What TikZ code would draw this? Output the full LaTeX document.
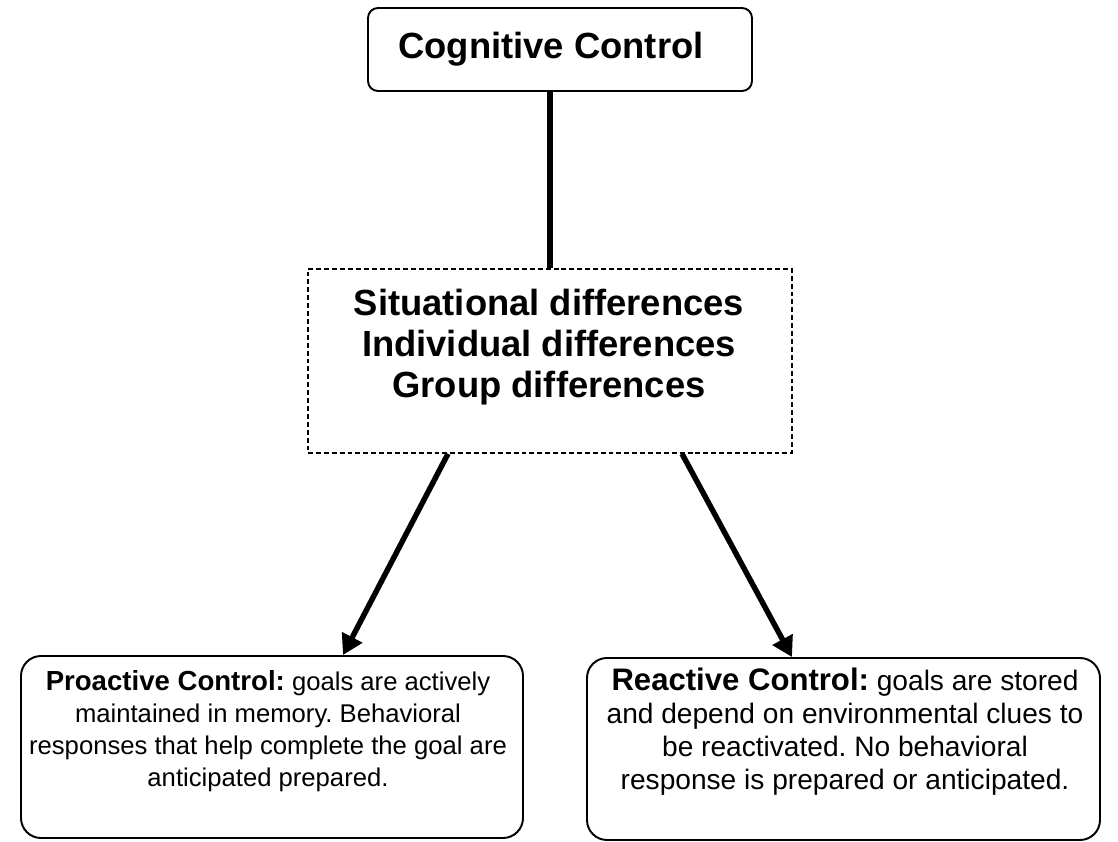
\documentclass[tikz,border=0pt]{standalone}
\usepackage{fontspec}
\setmainfont{Liberation Sans}
\usepackage{tikz}
\usetikzlibrary{arrows.meta,calc}
\frenchspacing

\begin{document}
\begin{tikzpicture}[
		topbox/.style={draw, line width=1.1pt, rounded corners=0.2cm, minimum width=7.68cm, minimum height=1.66cm},
		diffbox/.style={draw, line width=0.9pt, dash pattern=on 2.8pt off 1.7pt, minimum width=9.68cm, minimum height=3.68cm},
		ctrlbox/.style={draw, line width=1.1pt, rounded corners=0.4cm, minimum height=3.64cm},
		bigtext/.style={align=center, font=\fontsize{20.7}{23.3}\selectfont\bfseries},
		lefttext/.style={align=center, font=\fontsize{14.6}{18.2}\selectfont},
		righttext/.style={align=center, font=\fontsize{16}{18.7}\selectfont},
		link/.style={line width=3.1pt},
		arrow/.style={line width=3.1pt, -{Triangle[length=0.4cm, width=0.44cm]}}
	]
			%%%%% START %%%%%
			
			\useasboundingbox (0, 0) rectangle (22.36, -16.84);
			
			\node[topbox] (ctrl) at (11.2, -0.99) {};
			\node[bigtext] (ctrltext) at (11.02, -0.98) {Cognitive Control};
			
			\node[diffbox] (diffs) at (11.0, -7.22) {};
			\node[bigtext] (difftext) at (10.98, -6.94) {Situational differences\\Individual differences\\Group differences};
			
			\node[ctrlbox, minimum width=10.04cm] (proact) at (5.44, -14.94) {};
			\node[lefttext] (proacttext) at (5.36, -14.62) {\textbf{\fontsize{15.7}{18.2}\selectfont Proactive Control:} goals are actively\\maintained in memory. Behavioral\\responses that help complete the goal are\\anticipated prepared.};
			
			\node[ctrlbox, minimum width=10.26cm] (react) at (16.87, -14.98) {};
			\node[righttext] (reacttext) at (16.9, -14.63) {\textbf{\fontsize{17.7}{18.7}\selectfont Reactive Control:} goals are stored\\and depend on environmental clues to\\be reactivated. No behavioral\\response is prepared or anticipated.};
			
			\draw[link] (diffs.north) -- (diffs.north |- ctrl.south);
			\draw[arrow] ([xshift=-2.04cm]diffs.south) -- ([xshift=1.42cm]proact.north);
			\draw[arrow] ([xshift=2.64cm]diffs.south) -- ([xshift=-1.03cm]react.north);
			
			%%%%% END %%%%%
\end{tikzpicture}
\end{document}
